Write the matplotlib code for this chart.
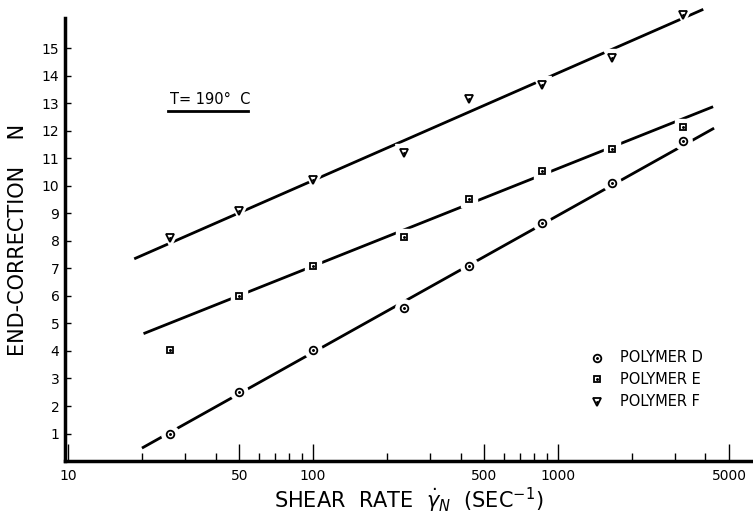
import numpy as np
import matplotlib
matplotlib.use('Agg')
import matplotlib.pyplot as plt
from matplotlib.ticker import FixedLocator, NullFormatter

plt.rcParams['font.family'] = ['DejaVu Sans']

# shear rate (1/sec), same for all three polymers
shear = [26, 50, 100, 235, 435, 857, 1667, 3250]
# end correction N
poly_d = [1.0, 2.52, 4.05, 5.58, 7.08, 8.64, 10.12, 11.65]
poly_e = [4.05, 6.01, 7.1, 8.13, 9.51, 10.55, 11.35, 12.16]
poly_f = [8.12, 9.09, 10.21, 11.21, 13.16, 13.68, 14.64, 16.2]

# hand drawn straight lines (end points)
line_d_x = [20, 4340]
line_d_y = [0.47, 12.1]
line_e_x = [20.3, 4300]
line_e_y = [4.63, 12.88]
line_f_x = [18.6, 3920]
line_f_y = [7.35, 16.42]

xticks = [10, 50, 100, 500, 1000, 5000]
xminor = [20, 30, 40, 60, 70, 80, 90, 200, 300, 400, 600, 700, 800, 900,
          2000, 3000, 4000]
yticks = list(range(1, 16))

fig = plt.figure(figsize=(7.53, 5.18), dpi=100)
ax = fig.add_axes([0.0863, 0.110, 0.9124, 0.855])

series = [(poly_d, line_d_x, line_d_y, 'o', 5.5, 'POLYMER D'),
          (poly_e, line_e_x, line_e_y, 's', 5.0, 'POLYMER E'),
          (poly_f, line_f_x, line_f_y, 'v', 6.3, 'POLYMER F')]

for ys, lx, ly, m, ms, name in series:
    ax.plot(lx, ly, color='black', lw=2, zorder=1, clip_on=False, solid_capstyle='butt')
    # white halo so the line is broken at each point
    ax.plot(shear, ys, ls='none', marker=m, ms=ms + 7, mfc='white', mec='white',
            zorder=2, clip_on=False)
    ax.plot(shear, ys, ls='none', marker=m, ms=ms, mfc='white', mec='black',
            mew=1.3, zorder=3, clip_on=False)
    ax.plot(shear, ys, ls='none', marker='.', ms=2.2, color='black',
            zorder=4, clip_on=False)

# legend drawn by hand
leg_y = [3.75, 2.98, 2.15]
for (ys, lx, ly, m, ms, name), yy in zip(series, leg_y):
    ax.plot([1442], [yy], ls='none', marker=m, ms=ms, mfc='white', mec='black', mew=1.3)
    ax.plot([1442], [yy], ls='none', marker='.', ms=2.2, color='black')
    ax.text(1791, yy, name, fontsize=10.5, va='center', ha='left')

ax.text(38, 13.13, 'T= 190°  C', fontsize=10.5, ha='center', va='center')
ax.plot([25.6, 54.3], [12.74, 12.74], color='black', lw=2)

ax.set_xscale('log')
ax.set_xlim(9.7, 6200)
ax.set_ylim(0, 16.1)

ax.xaxis.set_major_locator(FixedLocator(xticks))
ax.xaxis.set_minor_locator(FixedLocator(xminor))
ax.xaxis.set_minor_formatter(NullFormatter())
ax.set_xticklabels([str(t) for t in xticks])
ax.set_yticks(yticks)

ax.tick_params(axis='x', which='major', direction='in', length=12, width=1,
               labelsize=10, pad=6)
ax.tick_params(axis='x', which='minor', direction='in', length=6, width=1)
ax.tick_params(axis='y', which='major', direction='in', length=4, width=1,
               labelsize=10, pad=4)

for s in ['top', 'right']:
    ax.spines[s].set_visible(False)
for s in ['left', 'bottom']:
    ax.spines[s].set_linewidth(2.5)

ax.set_xlabel('SHEAR  RATE  $\\dot{\\gamma}_N$  (SEC$^{-1}$)', fontsize=15, labelpad=2)
ax.set_ylabel('END-CORRECTION    N', fontsize=15, labelpad=10)

fig.savefig('out.png', dpi=100)
